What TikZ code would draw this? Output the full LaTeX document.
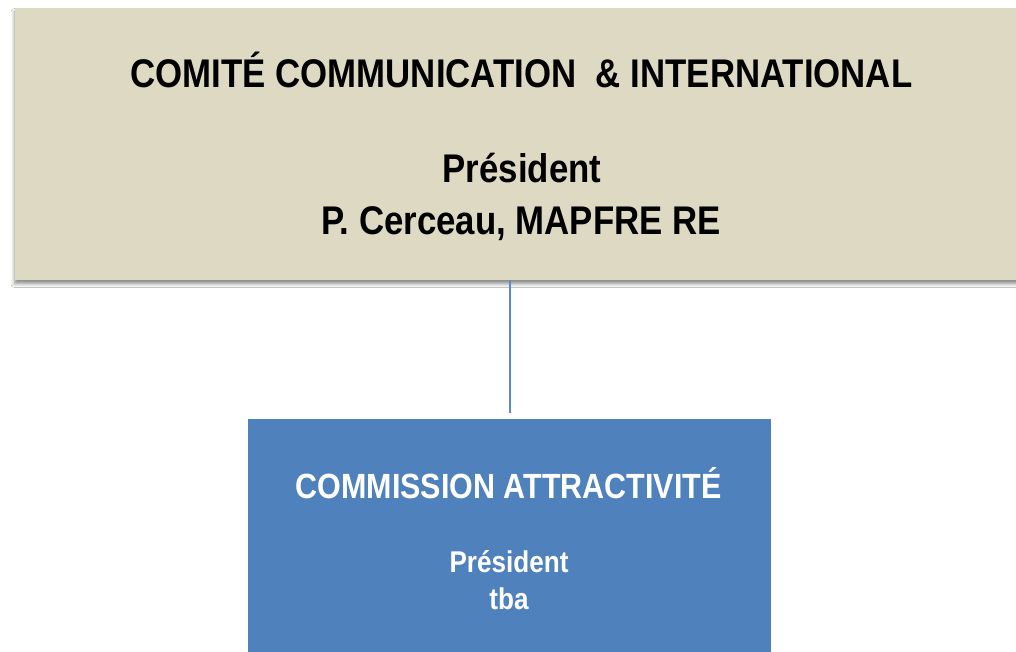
\documentclass[tikz,border=0pt]{standalone}
\usepackage{fontspec}
\setmainfont{Liberation Sans}
\newfontfamily\narfont[FakeStretch=0.87]{Liberation Sans}
\usetikzlibrary{shadows.blur}
\definecolor{beige}{HTML}{DDD9C3}
\definecolor{boxblue}{HTML}{4F81BD}
\definecolor{lineblue}{HTML}{5B8AC4}
\begin{document}
\begin{tikzpicture}[x=1pt,y=1pt,
  topbox/.style={fill=beige, draw=none,
    blur shadow={shadow xshift=-0.5pt, shadow yshift=-4pt, shadow blur radius=3.5pt, shadow opacity=45}},
  botbox/.style={fill=boxblue, draw=none},
  conn/.style={draw=lineblue, line width=2pt},
  ttl/.style={anchor=base, inner sep=0pt, font=\narfont\bfseries\fontsize{40}{44}\selectfont},
  sub/.style={anchor=base, inner sep=0pt, text=white, font=\narfont\bfseries\fontsize{#1}{#1}\selectfont}
]
\useasboundingbox (0,0) rectangle (1016,651);
\fill[white] (0,0) rectangle (1016,651);
\node[topbox, minimum width=1005pt, minimum height=272pt, inner sep=0pt] (top) at (517.5,507) {};
\node[botbox, minimum width=523pt, minimum height=240pt, inner sep=0pt] (bot) at (509.5,112) {};
\draw[conn] (bot.north |- top.south) -- ([yshift=6pt]bot.north);
\node[ttl] (t1) at (521.5,563) {COMITÉ COMMUNICATION\ \ \& INTERNATIONAL};
\node[ttl] (t2) at (522,468) {Président};
\node[ttl] (t3) at (521,416) {P. Cerceau, MAPFRE RE};
\node[sub=35] (b1) at (508.5,153) {COMMISSION ATTRACTIVITÉ};
\node[sub=30] (b2) at (509,79) {Président};
\node[sub=30] (b3) at (509,42) {tba};
\end{tikzpicture}
\end{document}
